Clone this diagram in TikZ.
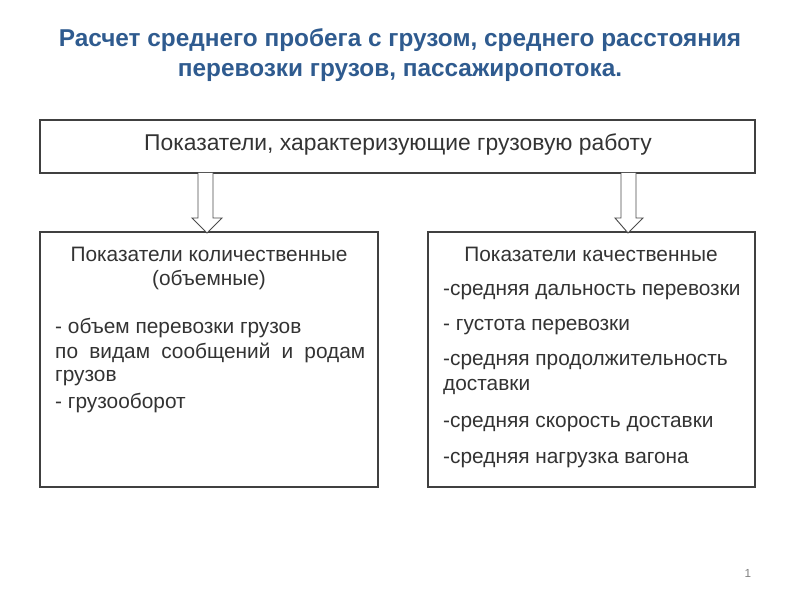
\documentclass[tikz,border=0pt]{standalone}
\usepackage{fontspec}
\setmainfont{Liberation Sans}
\definecolor{titleblue}{HTML}{2F5B8F}
\begin{document}
\begin{tikzpicture}[x=0.03cm,y=-0.03cm,
  box/.style={draw=black!75,line width=0.9pt},
  txt/.style={inner sep=0pt,text=black!80,font=\fontsize{17.8}{20}\selectfont},
  harrow/.style={draw=black!70,line width=0.8pt,fill=white}]
\useasboundingbox (0,0) rectangle (800,600);
\node[text=titleblue,font=\bfseries\fontsize{20.8}{26}\selectfont,align=center] (title) at (400,55)
 {Расчет среднего пробега с грузом, среднего расстояния\\перевозки грузов, пассажиропотока.};
\draw[box] (40,120) rectangle (755,173);
\node[txt,font=\fontsize{19.5}{22}\selectfont] (top) at (398,144) {Показатели, характеризующие грузовую работу};
\draw[box] (40,232) rectangle (378,487);
\draw[box] (428,232) rectangle (755,487);
\draw[harrow] (198,173) -- (198,218) -- (192,218) -- (207,233) -- (222,218) -- (213,218) -- (213,173);
\draw[harrow] (621,173) -- (621,218) -- (615,218) -- (628,233) -- (643,218) -- (636,218) -- (636,173);
\node[txt] (l1) at (209,254) {Показатели количественные};
\node[txt] (l2) at (209,280) {(объемные)};
\node[txt,anchor=west] (l3) at (55,328) {- объем перевозки грузов};
\node[txt,anchor=west] (l4) at (55,353) {\makebox[9.3cm][s]{по\hfill видам\hfill сообщений\hfill и\hfill родам}};
\node[txt,anchor=west] (l5) at (55,378) {грузов};
\node[txt,anchor=west] (l6) at (55,403) {- грузооборот};
\node[txt] (r1) at (591,254) {Показатели качественные};
\node[txt,anchor=west] (r2) at (443,292) {-средняя дальность перевозки};
\node[txt,anchor=west] (r3) at (443,327) {- густота перевозки};
\node[txt,anchor=west] (r4) at (443,362) {-средняя продолжительность};
\node[txt,anchor=west] (r5) at (443,387) {доставки};
\node[txt,anchor=west] (r6) at (443,424) {-средняя скорость доставки};
\node[txt,anchor=west] (r7) at (443,460) {-средняя нагрузка вагона};
\node[text=black!50,font=\fontsize{10}{12}\selectfont] (pg) at (748,573) {1};
\end{tikzpicture}
\end{document}
